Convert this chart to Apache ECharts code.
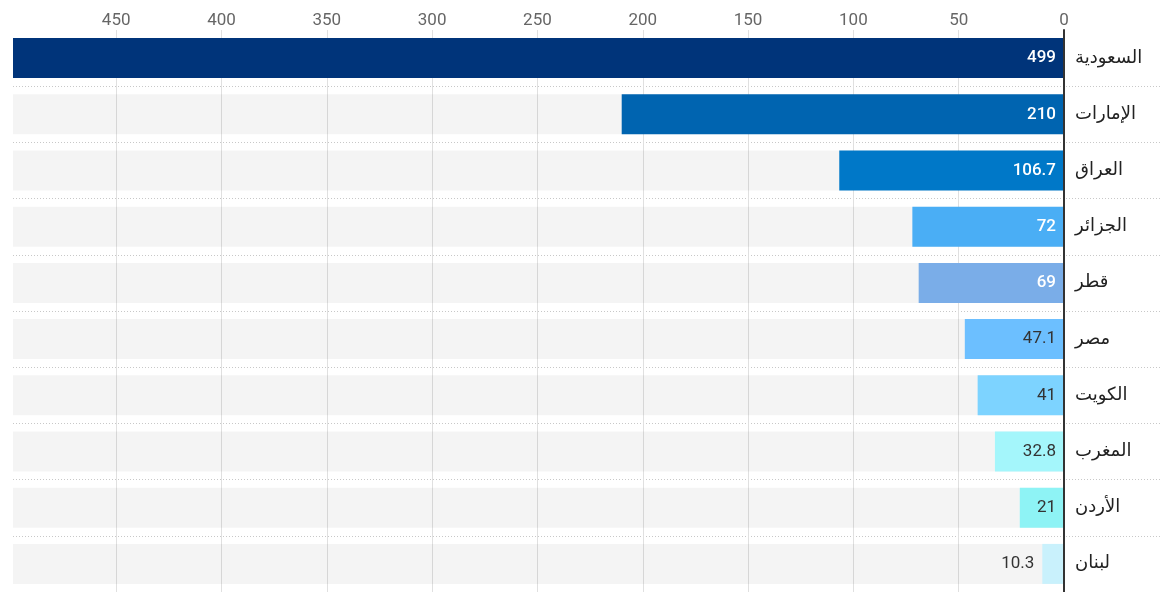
<!DOCTYPE html>
<html>
<head>
<meta charset="utf-8">
<script src="https://cdn.jsdelivr.net/npm/echarts@6/dist/echarts.min.js"></script>
<style>
  html, body { margin: 0; padding: 0; background: #fff; }
  #chart { width: 1171px; height: 592px; }
</style>
</head>
<body>
<div id="chart"></div>
<script>
var countries = ['السعودية', 'الإمارات', 'العراق', 'الجزائر', 'قطر', 'مصر', 'الكويت', 'المغرب', 'الأردن', 'لبنان'];
var values = [499, 210, 106.7, 72, 69, 47.1, 41, 32.8, 21, 10.3];
var barColors = ['#00347a', '#0064b0', '#0078c8', '#4aaef5', '#7aade8', '#6cbfff', '#7dd3ff', '#a4f6fb', '#8ef3f5', '#c9f1fc'];
var labelColors = ['#fff', '#fff', '#fff', '#fff', '#fff', '#333', '#333', '#333', '#333', '#333'];
var tickStep = 50;

var font = 'Roboto, "DejaVu Sans", sans-serif';

var chart = echarts.init(document.getElementById('chart'));

var barData = values.map(function (v, i) {
  var outside = i === values.length - 1;
  return {
    value: v,
    itemStyle: { color: barColors[i] },
    label: {
      position: outside ? 'left' : 'insideRight',
      distance: 8,
      color: labelColors[i],
      fontWeight: labelColors[i] === '#fff' ? 500 : 400
    }
  };
});

var option = {
  animation: false,
  textStyle: { fontFamily: font },
  grid: [
    { left: 13, right: 107, top: 30, bottom: -3 },
    { left: 13, right: 9, top: 30, bottom: -3 }
  ],
  xAxis: [{
    gridIndex: 0,
    type: 'value',
    position: 'top',
    inverse: true,
    min: 0,
    max: 'dataMax',
    interval: tickStep,
    axisLine: { show: false },
    axisTick: { show: false },
    axisLabel: {
      color: '#666',
      fontSize: 17,
      margin: 1,
      showMaxLabel: false,
      fontFamily: font
    },
    splitLine: {
      showMaxLine: false,
      lineStyle: { color: '#e0e0e0', width: 1 }
    }
  }, {
    gridIndex: 1,
    type: 'value',
    show: false
  }],
  yAxis: [{
    gridIndex: 0,
    type: 'category',
    data: countries,
    inverse: true,
    position: 'right',
    axisLine: { show: true, lineStyle: { color: '#333', width: 2 } },
    axisTick: { show: false },
    splitLine: { show: false },
    axisLabel: {
      color: '#222',
      fontSize: 18,
      margin: 11,
      fontFamily: font
    },
    z: 5
  }, {
    gridIndex: 1,
    type: 'category',
    data: countries,
    inverse: true,
    axisLine: { show: false },
    axisTick: { show: false },
    axisLabel: { show: false },
    splitLine: {
      show: true,
      interval: function (i) { return i > 0; },
      lineStyle: { color: '#c8c8c8', type: [1, 2], width: 1 }
    }
  }],
  series: [{
    type: 'bar',
    xAxisIndex: 0,
    yAxisIndex: 0,
    data: barData,
    barWidth: 40,
    showBackground: true,
    backgroundStyle: { color: 'rgba(0,0,0,0.045)' },
    label: {
      show: true,
      fontSize: 17,
      fontFamily: font
    }
  }]
};

chart.setOption(option);
window.addEventListener('resize', function () {
  chart.resize();
});
</script>
</body>
</html>
